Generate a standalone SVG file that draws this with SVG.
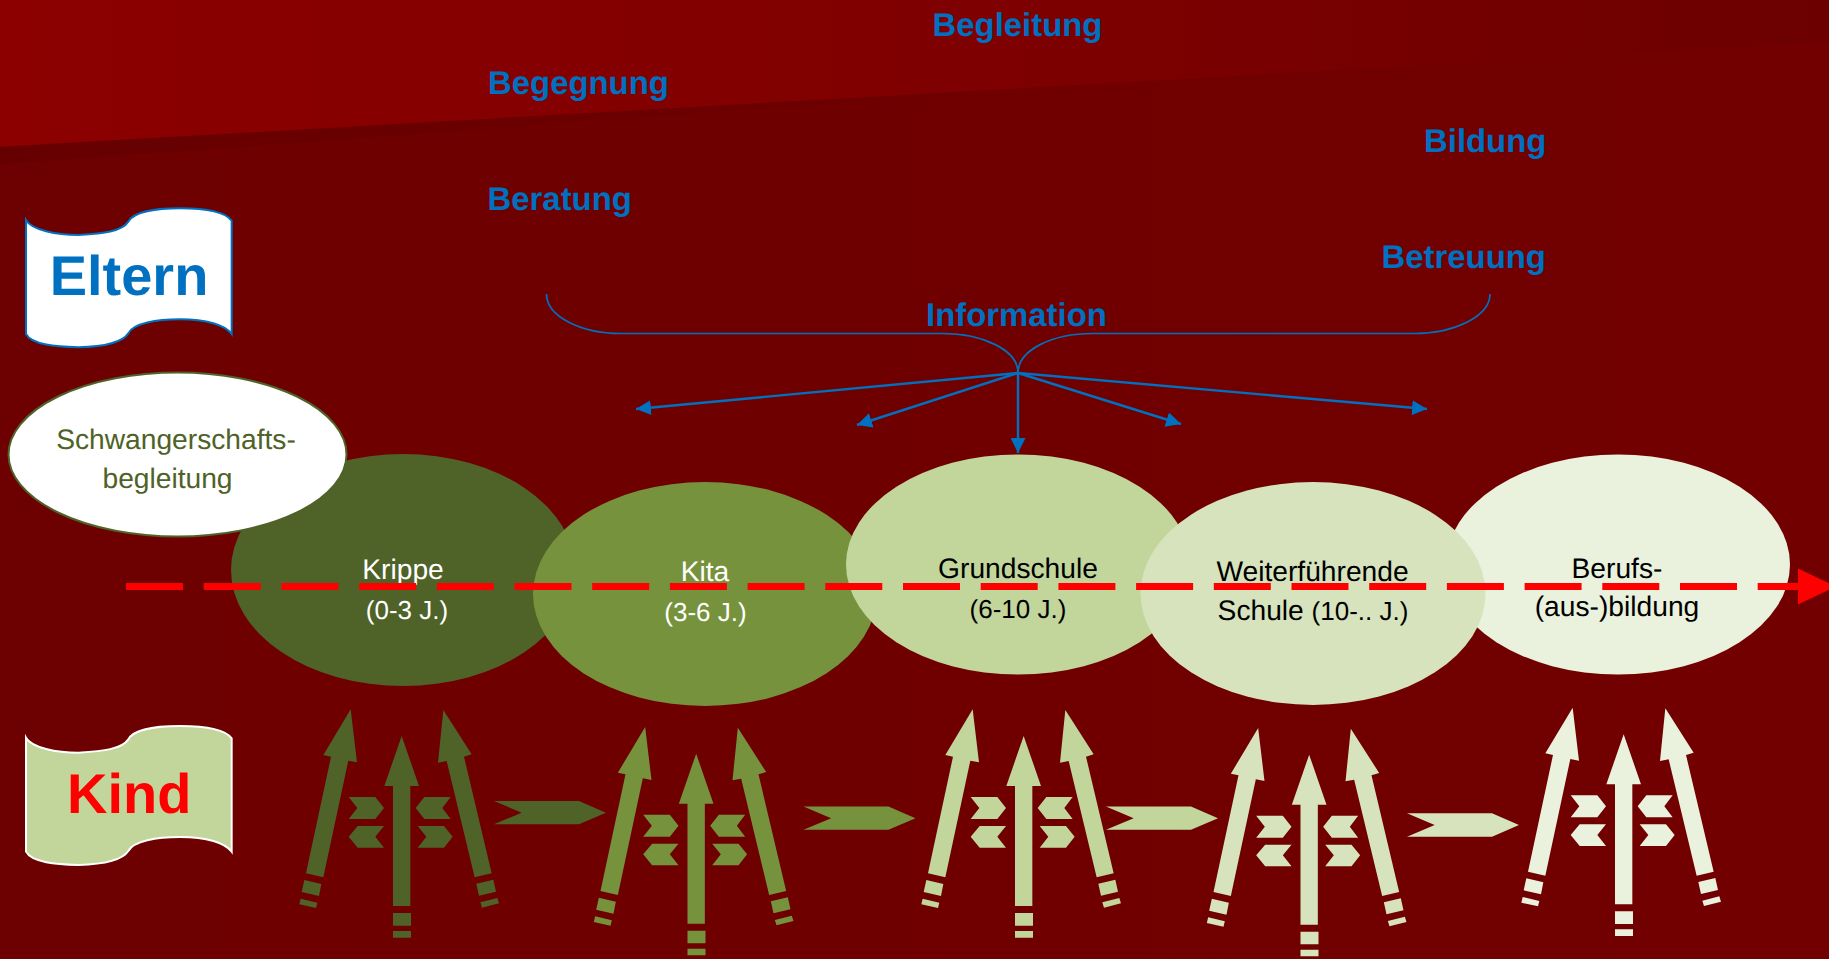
<svg xmlns="http://www.w3.org/2000/svg" xmlns:xlink="http://www.w3.org/1999/xlink" width="1829" height="959" viewBox="0 0 1829 959">
<style>
text{font-family:"Liberation Sans",Arial,sans-serif;text-rendering:geometricPrecision}
.lbl{font-size:32.9px;font-weight:bold;fill:#0070c0}
.t{font-size:28.2px}
.s{font-size:26px}
.w{fill:#fff}
.k{fill:#000}
.g{fill:#4f6228}
.c{text-anchor:middle}
.brace{fill:none;stroke:#0070c0;stroke-width:1.7}
.ray{fill:none;stroke:#0070c0;stroke-width:2.4;marker-end:url(#ah)}
</style>
<defs>
<linearGradient id="bg" x1="0" y1="0" x2="1" y2="0"><stop offset="0" stop-color="#6d0000"/><stop offset="1" stop-color="#720000"/></linearGradient>
<linearGradient id="top" x1="0" y1="0" x2="1" y2="0"><stop offset="0" stop-color="#8c0000"/><stop offset=".55" stop-color="#7e0000"/><stop offset="1" stop-color="#6c0000"/></linearGradient>
<linearGradient id="wedge" x1="0" y1="0" x2="1" y2="0"><stop offset="0" stop-color="#660000"/><stop offset="1" stop-color="#6f0000"/></linearGradient>
<marker id="ah" markerUnits="userSpaceOnUse" markerWidth="15" markerHeight="15" refX="15" refY="7.500" orient="auto"><path d="M0,0L15,7.500L0,15Z" fill="#0070c0"/></marker>
<path id="flag" d="M78,90C95,120 170,135 235,135C310,130 365,125 385,95C400,65 470,55 540,55C620,55 675,65 695,92L695,432C675,405 620,388 540,388C470,388 400,400 385,430C365,460 310,470 235,472C170,470 95,465 78,432Z"/>
<g id="arrows" transform="scale(.33333)">
<path d="M212,28L231,187L205,182L130,532L78,520L153,170L130,165Z"/>
<path d="M73,540L124,552L117,588L65,576ZM62,596L112,608L108,624L58,613Z"/>
<path d="M365,108L417,258L391,258L391,618L339,618L339,258L313,258Z"/>
<path d="M339,639H393V677H339ZM339,693H393V713H339Z"/>
<path d="M490,30L575,163L552,170L635,520L584,532L500,183L474,188Z"/>
<path d="M589,551L640,539L648,575L597,587ZM601,607L652,594L657,610L606,623Z"/>
<path d="M206,291L286,291L312,324L286,357L206,357L232,324Z"/>
<path d="M312,378L233,378L206,410L233,443L312,443L286,410Z"/>
<path d="M512,291L433,291L407,324L433,357L512,357L487,324Z"/>
<path d="M413,378L492,378L518,410L492,443L413,443L439,410Z"/>
</g>
<path id="flow" d="M642,303L897,303L978,338L897,373L642,373L725,338Z" transform="scale(.33333)"/>
</defs>
<rect id="background" width="1829" height="959" fill="url(#bg)"/>
<path id="background-wedge" d="M0,146L1170,80L0,164Z" fill="url(#wedge)"/>
<path id="background-band" d="M0,0H1829V42L0,146.700Z" fill="url(#top)"/>

<g id="flag-eltern" transform="translate(0,190) scale(.33333)"><use href="#flag" fill="#fff" stroke="#0070c0" stroke-width="6"/><text x="387" y="316" class="c" font-size="168" font-weight="bold" fill="#0070c0">Eltern</text></g>
<g id="flag-kind" transform="translate(0,700) scale(.33333) translate(0,23)"><use href="#flag" fill="#c2d69b" stroke="#fff" stroke-width="6"/><text x="388" y="317" class="c" font-size="168" font-weight="bold" fill="#f00">Kind</text></g>

<text id="l-begleitung" x="932.500" y="36" class="lbl">Begleitung</text>
<text id="l-begegnung" x="488" y="94" class="lbl">Begegnung</text>
<text id="l-bildung" x="1424" y="152" class="lbl">Bildung</text>
<text id="l-beratung" x="487.500" y="210" class="lbl">Beratung</text>
<text id="l-betreuung" x="1381.500" y="268" class="lbl">Betreuung</text>
<text id="l-information" x="926" y="326" class="lbl">Information</text>

<g id="connectors">
<path class="brace" d="M546.500,294C546.500,316 580,333.500 621,333.500H942C983,333.500 1018,350 1018,373C1018,350 1052,333.500 1093,333.500H1414C1455,333.500 1490,316 1490,294"/>
<line class="ray" x1="1018" y1="373" x2="636" y2="409"/>
<line class="ray" x1="1018" y1="373" x2="857" y2="425"/>
<line class="ray" x1="1018" y1="373" x2="1018" y2="453"/>
<line class="ray" x1="1018" y1="373" x2="1181" y2="424"/>
<line class="ray" x1="1018" y1="373" x2="1427" y2="409"/>
</g>

<g id="node-krippe"><ellipse cx="403" cy="570" rx="172" ry="116" fill="#4f6228"/></g>
<g id="node-kita"><ellipse cx="705" cy="594" rx="172" ry="112" fill="#76923c"/></g>
<g id="node-grundschule"><ellipse cx="1018" cy="564.500" rx="172" ry="110" fill="#c2d69b"/></g>
<g id="node-berufs"><ellipse cx="1618" cy="564.500" rx="172" ry="110" fill="#eaf1dd"/></g>
<g id="node-weiter"><ellipse cx="1313" cy="593.500" rx="172.500" ry="111.500" fill="#d6e3bc"/></g>
<g id="node-schwanger"><ellipse cx="177.500" cy="454.500" rx="169" ry="82" fill="#fff" stroke="#4f6228" stroke-width="2"/>
<text x="176" y="449" class="t g c">Schwangerschafts-</text><text x="167.500" y="488" class="t g c">begleitung</text></g>

<g id="labels">
<text x="403" y="579" class="t w c">Krippe</text><text x="407" y="618.500" class="s w c">(0-3 J.)</text>
<text x="705" y="581" class="t w c">Kita</text><text x="705.500" y="620.500" class="s w c">(3-6 J.)</text>
<text x="1018" y="578" class="t k c">Grundschule</text><text x="1018" y="618" class="s k c">(6-10 J.)</text>
<text x="1312.500" y="581" class="t k c">Weiterführende</text><text x="1313" y="620" class="c k"><tspan class="t">Schule </tspan><tspan class="s">(10-.. J.)</tspan></text>
<text x="1617" y="578" class="t k c">Berufs-</text><text x="1617" y="616" class="t k c">(aus-)bildung</text>
</g>

<g id="timeline">
<line x1="126" y1="586.500" x2="1800" y2="586.500" stroke="#f00" stroke-width="7" stroke-dasharray="57 20.7"/>
<path d="M1798,568.500L1836,586.500L1798,604.500Z" fill="#f00"/>
</g>

<g id="people-arrows">
<use href="#arrows" transform="translate(280,700)" fill="#4f6228"/>
<use href="#arrows" transform="translate(574.500,717.700)" fill="#76923c"/>
<use href="#arrows" transform="translate(902,700)" fill="#c2d69b"/>
<use href="#arrows" transform="translate(1187.500,718.700)" fill="#d6e3bc"/>
<use href="#arrows" transform="translate(1502,698.300)" fill="#eaf1dd"/>
</g>
<g id="flow-arrows">
<use href="#flow" transform="translate(280,700)" fill="#4f6228"/>
<use href="#flow" transform="translate(589.500,705.500)" fill="#76923c"/>
<use href="#flow" transform="translate(892,705.500)" fill="#c2d69b"/>
<use href="#flow" transform="translate(1193,712.300)" fill="#d6e3bc"/>
</g>
</svg>
